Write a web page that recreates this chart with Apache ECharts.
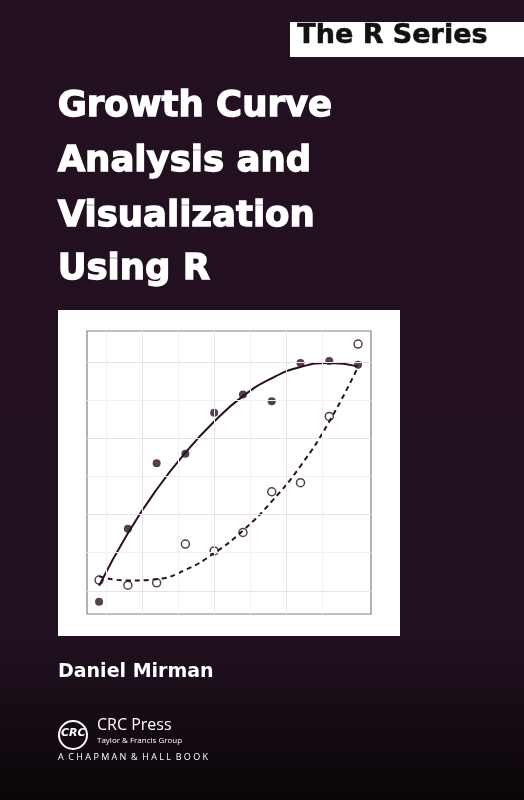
<!DOCTYPE html>
<html><head><meta charset="utf-8">
<script src="https://cdn.jsdelivr.net/npm/echarts@6/dist/echarts.min.js"></script>
<style>html,body{margin:0;padding:0;background:#231020}#c{width:524px;height:800px}</style>
</head><body><div id="c"></div>
<script>
const xs = [1,2,3,4,5,6,7,8,9,10];
const filled = [4.3,30.1,53.3,56.6,71.1,77.6,75.2,88.7,89.4,88.1];
const open = [12.0,10.2,11.0,24.7,22.3,28.8,43.2,46.4,69.8,95.4];
const fitSolid = [10,28.5,44,57,68,77,83.3,87.3,88.7,87.5];
const fitDashed = [13.3,11.8,12.3,15.6,21.5,29.5,39.8,52.3,68,87.3];
const gridXMajor = [2.5,5,7.5];
const gridXMinor = [1.25,3.75,6.25,8.75];
const gridYMajor = [8.2,35.2,62.2,89.1];
const gridYMinor = [21.7,48.7,75.7];
const titleLines = ['Growth Curve','Analysis and','Visualization','Using R'];
const pair = (a)=>xs.map((x,i)=>[x,a[i]]);
const chart = echarts.init(document.getElementById('c'));
const T = (x,y,text,font,fill,lw)=>({type:'text',left:x,top:y,style:{text,font,fill,stroke:lw?fill:null,lineWidth:lw||0}});
const gl = (xv,yv,color)=>({type:'line',data:[],silent:true,markLine:{silent:true,symbol:'none',label:{show:false},
      lineStyle:{color,type:'solid',width:1},
      data:xv.map(v=>({xAxis:v})).concat(yv.map(v=>({yAxis:v})))}});
const titleTops = [88,143,198,251];
chart.setOption({
  backgroundColor:{type:'linear',x:0,y:0,x2:0,y2:1,colorStops:[{offset:0,color:'#231020'},{offset:0.8,color:'#211020'},{offset:1,color:'#0a0608'}]},
  animation:false,
  grid:{left:87,top:331,width:284,height:283,show:true,borderColor:'#8a7a88',borderWidth:1.2,backgroundColor:'#fff'},
  xAxis:{type:'value',min:0.58,max:10.45,show:false,splitLine:{show:false}},
  yAxis:{type:'value',min:0,max:100,show:false,splitLine:{show:false}},
  graphic:[
    {type:'rect',shape:{x:58,y:310,width:342,height:326},style:{fill:'#fff'},z:-10},
    {type:'rect',shape:{x:290,y:22,width:234,height:35},style:{fill:'#fff'}},
    T(297,22,'The R Series','bold 27px "DejaVu Sans"','#111',0.6),
    ...titleLines.map((t,i)=>T(57,titleTops[i],t,'bold 35.5px "DejaVu Sans"','#fff',1.3)),
    T(58,663,'Daniel Mirman','bold 19px "DejaVu Sans"','#fff'),
    {type:'circle',shape:{cx:73,cy:735,r:14},style:{fill:'none',stroke:'#fff',lineWidth:2}},
    T(61,728,'CRC','italic bold 11px "DejaVu Sans"','#fff'),
    T(97,717,'CRC Press','16px "Open Sans"','#fff'),
    T(97,737,'Taylor & Francis Group','8px "Open Sans"','#fff'),
    T(58,753,'A  C H A P M A N  &  H A L L  B O O K','9px "Open Sans"','#fff')
  ],
  series:[
    gl(gridXMinor,gridYMinor,'#f3f0f3'),
    gl(gridXMajor,gridYMajor,'#e6e2e6'),
    {type:'line',data:pair(fitSolid),smooth:true,showSymbol:false,lineStyle:{color:'#2a0f24',width:2}},
    {type:'line',data:pair(fitDashed),smooth:true,showSymbol:false,lineStyle:{color:'#2a0f24',width:2,type:[5,4]}},
    {type:'scatter',data:pair(filled),symbolSize:8,itemStyle:{color:'#2a0f24'}},
    {type:'scatter',data:pair(open),symbolSize:8,itemStyle:{color:'#fff',borderColor:'#2a0f24',borderWidth:1.5}}
  ]
});
</script></body></html>
